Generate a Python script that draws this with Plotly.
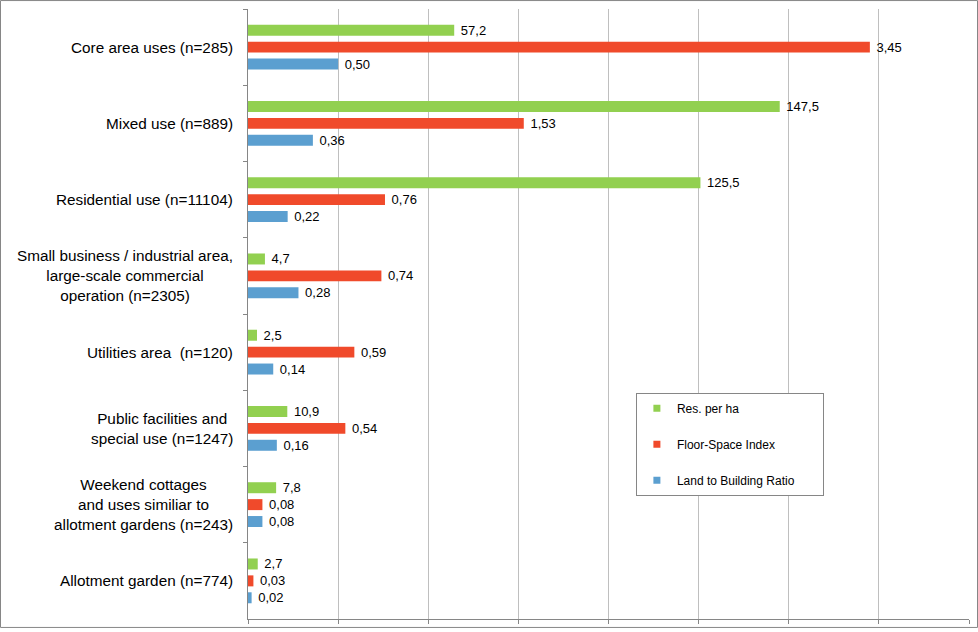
import plotly.graph_objects as go

categories = [
    "Core area uses (n=285)",
    "Mixed use (n=889)",
    "Residential use (n=11104)",
    "Small business / industrial area,<br>large-scale commercial<br>operation (n=2305)",
    "Utilities area  (n=120)",
    "Public facilities and<br>special use (n=1247)",
    "Weekend cottages<br>and uses similiar to<br>allotment gardens (n=243)",
    "Allotment garden (n=774)",
]
res_per_ha = [57.2, 147.5, 125.5, 4.7, 2.5, 10.9, 7.8, 2.7]
floor_space_index = [3.45, 1.53, 0.76, 0.74, 0.59, 0.54, 0.08, 0.03]
land_building_ratio = [0.50, 0.36, 0.22, 0.28, 0.14, 0.16, 0.08, 0.02]
series_names = ["Res. per ha", "Floor-Space Index", "Land to Building Ratio"]
RES_SCALE = 50  # residents per ha drawn at 1/50 on the shared axis

GREEN, RED, BLUE = "#92D050", "#F04A2B", "#5B9FD0"
W, H = 978, 632
ML, MR, MT, MB = 248, 9, 9, 9
FONT = "Liberation Sans, Arial"


def fmt(v, d):
    return ("{:.%df}" % d).format(v).replace(".", ",")


series = [
    (series_names[0], [v / RES_SCALE for v in res_per_ha], [fmt(v, 1) for v in res_per_ha], GREEN),
    (series_names[1], floor_space_index, [fmt(v, 2) for v in floor_space_index], RED),
    (series_names[2], land_building_ratio, [fmt(v, 2) for v in land_building_ratio], BLUE),
]

fig = go.Figure()
for name, xs, txt, col in series:
    fig.add_trace(go.Bar(
        y=categories, x=xs, orientation="h", name=name,
        marker=dict(color=col, line=dict(width=0)),
        text=["\u00a0" + t for t in txt], textposition="outside",
        constraintext="none",
        textfont=dict(family=FONT, size=13, color="#000000"),
        cliponaxis=False, showlegend=False, hoverinfo="skip",
    ))
for i, (name, xs, txt, col) in enumerate(series):
    fig.add_trace(go.Scatter(
        x=[None], y=[None], mode="markers",
        name=name + "\u00a0" * 7, legendgroup=str(i),
        marker=dict(symbol="square", size=7, color=col),
    ))

for c in categories:
    fig.add_annotation(
        x=0, xref="paper", y=c, yref="y", xanchor="right", xshift=-13,
        text=c, showarrow=False, align="center",
        font=dict(family=FONT, size=15.3, color="#000000"),
    )

pw = W - ML - MR
ph = H - MT - MB
fig.add_shape(
    type="rect", xref="paper", yref="paper",
    x0=-(ML - 0.5) / pw, x1=1 + (MR - 0.5) / pw,
    y0=-(MB - 0.5) / ph, y1=1 + (MT - 0.5) / ph,
    line=dict(color="#868686", width=1), layer="below",
)

fig.update_layout(
    width=W, height=H,
    margin=dict(l=ML, r=MR, t=MT, b=MB),
    paper_bgcolor="white", plot_bgcolor="white",
    barmode="group", bargap=0.335, bargroupgap=0.35,
    font=dict(family=FONT, color="#000000"),
    xaxis=dict(
        range=[0, 4], dtick=0.5, tick0=0, showticklabels=False,
        ticks="outside", ticklen=4, tickcolor="#868686",
        showgrid=True, gridcolor="#BFBFBF", gridwidth=1,
        showline=True, linecolor="#868686", linewidth=1,
        zeroline=False, fixedrange=True,
    ),
    yaxis=dict(
        autorange="reversed", showticklabels=False,
        ticks="outside", ticklen=4, tickcolor="#868686", tickson="boundaries",
        showgrid=False, showline=True, linecolor="#868686", linewidth=1,
        zeroline=False, fixedrange=True,
    ),
    legend=dict(
        x=0.538, y=0.371, xanchor="left", yanchor="top",
        bgcolor="white", bordercolor="#868686", borderwidth=1,
        font=dict(family=FONT, size=12, color="#000000"),
        tracegroupgap=17, itemwidth=30,
    ),
)

fig.write_html("out.html")
